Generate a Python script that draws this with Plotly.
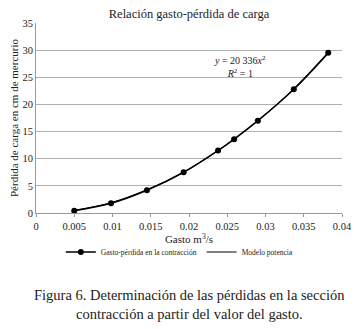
import plotly.graph_objects as go

gasto = [0.005, 0.0098, 0.0145, 0.0193, 0.0238, 0.0259, 0.029, 0.0337, 0.0382]
perdida = [0.4, 1.8, 4.2, 7.5, 11.5, 13.6, 17.0, 22.8, 29.5]
modelo_x = [0.005, 0.0098, 0.0145, 0.0193, 0.0238, 0.0259, 0.029, 0.0337, 0.0382]
modelo_y = [0.5, 1.9, 4.3, 7.5, 11.5, 13.6, 17.0, 22.9, 29.6]
x_ticks = [0, 0.005, 0.01, 0.015, 0.02, 0.025, 0.03, 0.035, 0.04]
x_tick_labels = ["0", "0.005", "0.01", "0.015", "0.02", "0.025", "0.03", "0.035", "0.04"]
y_ticks = [0, 5, 10, 15, 20, 25, 30, 35]

serif = "Liberation Serif, DejaVu Serif, serif"
OFF = 8  # default page body margin
W, H = 360 - OFF, 329 - OFF
TOP, BOTTOM = 23 - OFF, 213 - OFF
PH = BOTTOM - TOP

def py(pix):
    return (BOTTOM - (pix - OFF)) / PH

fig = go.Figure()
fig.add_trace(go.Scatter(
    x=gasto, y=perdida, mode="lines+markers", name="Gasto-pérdida en la contracción",
    line=dict(color="black", width=1.6, shape="spline"),
    marker=dict(color="black", size=6),
))
fig.add_trace(go.Scatter(
    x=modelo_x, y=modelo_y, mode="lines", name="Modelo potencia",
    line=dict(color="black", width=1, shape="spline"),
))

fig.update_layout(
    width=W, height=H,
    margin=dict(l=36 - OFF, r=18, t=TOP, b=H - BOTTOM, autoexpand=False),
    paper_bgcolor="white", plot_bgcolor="white",
    font=dict(family=serif, color="#222", size=11),
    title=dict(text="Relación gasto-pérdida de carga", x=0.5, xanchor="center",
               xref="paper", y=1 - (14 - OFF) / H, yanchor="middle",
               font=dict(size=12.5, family=serif)),
    showlegend=True,
    legend=dict(orientation="h", x=0.47, xanchor="center", y=py(252), yanchor="middle",
                font=dict(size=7.5, family=serif), bgcolor="rgba(0,0,0,0)",
                tracegroupgap=0, itemwidth=30),
    xaxis=dict(range=[0, 0.04], tickvals=x_ticks, ticktext=x_tick_labels,
               showgrid=False, zeroline=False, showline=True, linecolor="#999",
               ticks="outside", ticklen=3, tickcolor="#999", automargin=False,
               tickfont=dict(size=10.5, family=serif),
               title=dict(text="Gasto m<sup>3</sup>/s", font=dict(size=11, family=serif), standoff=1)),
    yaxis=dict(range=[0, 35], tickvals=y_ticks, showgrid=True, gridcolor="#b0b0b0",
               zeroline=False, showline=True, linecolor="#999",
               ticks="", automargin=False,
               tickfont=dict(size=10.5, family=serif),
               title=dict(text="Pérdida de carga en cm de mercurio",
                          font=dict(size=11, family=serif), standoff=4)),
)

fig.add_annotation(x=0.0267, y=27.0, xref="x", yref="y",
                   text="<i>y</i> = 20 336<i>x</i><sup>2</sup><br><i>R</i><sup>2</sup> = 1",
                   showarrow=False, font=dict(size=10, family=serif, color="#222"),
                   align="center")

fig.add_annotation(x=0.5, xref="paper", yref="paper", y=py(295),
                   yanchor="middle", text="Figura 6. Determinación de las pérdidas en la sección",
                   showarrow=False, font=dict(size=14.5, family=serif, color="#222"))
fig.add_annotation(x=0.5, xref="paper", yref="paper", y=py(314),
                   yanchor="middle", text="contracción a partir del valor del gasto.",
                   showarrow=False, font=dict(size=14.5, family=serif, color="#222"))

fig.write_html("out.html")
